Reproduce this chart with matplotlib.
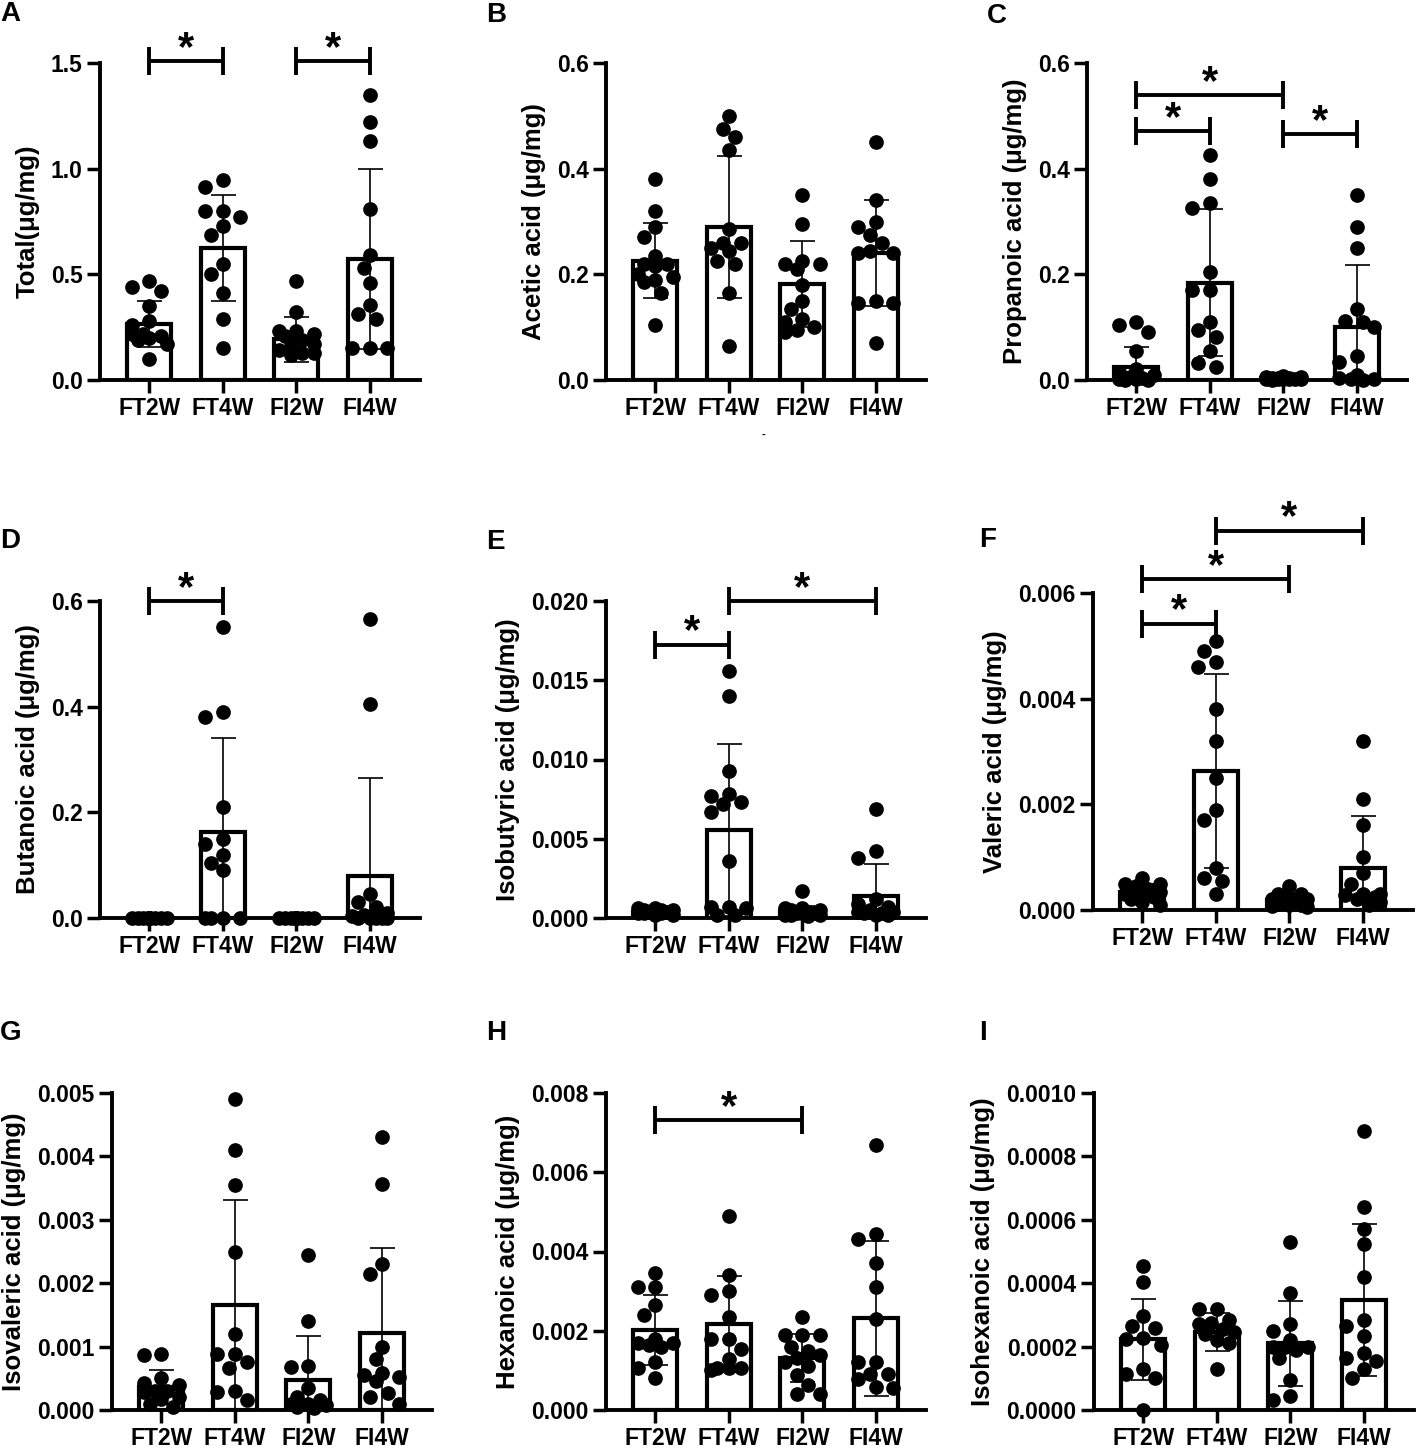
import matplotlib
matplotlib.use("Agg")
import matplotlib.pyplot as plt
import numpy as np

plt.rcParams['font.family'] = ['Liberation Sans', 'DejaVu Sans']
plt.rcParams['font.weight'] = 'bold'

groups = ["FT2W", "FT4W", "FI2W", "FI4W"]

# ---------------- data ----------------
total_pts = [
    [0.47, 0.44, 0.42, 0.35, 0.28, 0.26, 0.22, 0.21, 0.22, 0.20, 0.19, 0.17, 0.10],
    [0.945, 0.914, 0.80, 0.80, 0.77, 0.73, 0.685, 0.55, 0.50, 0.41, 0.29, 0.15],
    [0.47, 0.32, 0.23, 0.23, 0.22, 0.21, 0.19, 0.17, 0.16, 0.14, 0.13, 0.13, 0.12],
    [1.35, 1.22, 1.13, 0.81, 0.59, 0.53, 0.46, 0.355, 0.31, 0.29, 0.15, 0.15, 0.15],
]
total_mean = [0.265, 0.625, 0.192, 0.572]
total_sd = [0.108, 0.25, 0.108, 0.425]

acetic_pts = [
    [0.38, 0.32, 0.29, 0.27, 0.235, 0.22, 0.22, 0.215, 0.20, 0.195, 0.19, 0.185, 0.165, 0.105],
    [0.50, 0.475, 0.46, 0.435, 0.285, 0.26, 0.26, 0.25, 0.245, 0.225, 0.22, 0.165, 0.065],
    [0.35, 0.295, 0.225, 0.22, 0.22, 0.21, 0.18, 0.15, 0.135, 0.115, 0.11, 0.10, 0.095, 0.09],
    [0.45, 0.34, 0.30, 0.29, 0.275, 0.26, 0.245, 0.24, 0.24, 0.15, 0.145, 0.145, 0.07],
]
acetic_mean = [0.226, 0.29, 0.182, 0.24]
acetic_sd = [0.071, 0.134, 0.081, 0.10]

propanoic_pts = [
    [0.11, 0.105, 0.09, 0.055, 0.02, 0.015, 0.01, 0.005, 0.003, 0.002, 0.001, 0.0, 0.0],
    [0.425, 0.38, 0.335, 0.325, 0.205, 0.17, 0.17, 0.11, 0.095, 0.082, 0.054, 0.032, 0.025],
    [0.008, 0.006, 0.005, 0.004, 0.003, 0.003, 0.002, 0.002, 0.002, 0.001, 0.001, 0.001, 0.0],
    [0.35, 0.29, 0.25, 0.135, 0.112, 0.11, 0.10, 0.045, 0.035, 0.01, 0.003, 0.002, 0.001, 0.0],
]
propanoic_mean = [0.025, 0.184, 0.003, 0.10]
propanoic_sd = [0.038, 0.139, 0.003, 0.117]

butanoic_pts = [
    [0.0] * 13,
    [0.55, 0.39, 0.38, 0.21, 0.15, 0.14, 0.12, 0.105, 0.09, 0.0, 0.0, 0.0, 0.0],
    [0.0] * 13,
    [0.565, 0.405, 0.045, 0.03, 0.02, 0.01, 0.005, 0.003, 0.0, 0.0, 0.0, 0.0, 0.0],
]
butanoic_mean = [0.0, 0.162, 0.0, 0.08]
butanoic_sd = [0.0, 0.178, 0.0, 0.185]

isobutyric_pts = [
    [0.0006, 0.0006, 0.0005, 0.0005, 0.0005, 0.0004, 0.0004, 0.0004, 0.0003, 0.0003, 0.0003, 0.0002, 0.0002],
    [0.0156, 0.0140, 0.0093, 0.0078, 0.0077, 0.0073, 0.0072, 0.0067, 0.0036, 0.0007, 0.0007, 0.0006, 0.0002, 0.0002],
    [0.0017, 0.0006, 0.0006, 0.0005, 0.0005, 0.0004, 0.0003, 0.0003, 0.0003, 0.0002, 0.0002, 0.0002, 0.0001],
    [0.0069, 0.0042, 0.0038, 0.0012, 0.0009, 0.0007, 0.0005, 0.0004, 0.0004, 0.0003, 0.0003, 0.0002, 0.0002],
]
isobutyric_mean = [0.0004, 0.00556, 0.00045, 0.0014]
isobutyric_sd = [0.00012, 0.00544, 0.00033, 0.0020]

valeric_pts = [
    [0.0006, 0.0005, 0.0005, 0.00045, 0.0004, 0.0004, 0.00035, 0.0003, 0.0003, 0.00025, 0.0002, 0.00015, 0.0001],
    [0.0051, 0.0049, 0.0047, 0.0046, 0.0038, 0.0032, 0.0025, 0.0019, 0.0017, 0.0008, 0.0006, 0.00055, 0.0003],
    [0.00045, 0.0003, 0.0003, 0.00025, 0.0002, 0.0002, 0.00018, 0.00015, 0.00012, 0.0001, 0.0001, 0.00008, 0.00005],
    [0.0032, 0.0021, 0.0016, 0.001, 0.0007, 0.0005, 0.0003, 0.0003, 0.00028, 0.00025, 0.0002, 0.00015, 0.0001],
]
valeric_mean = [0.00035, 0.00263, 0.00018, 0.0008]
valeric_sd = [0.00014, 0.00183, 0.0001, 0.00097]

isovaleric_pts = [
    [0.00088, 0.00087, 0.00051, 0.00042, 0.0004, 0.0003, 0.0003, 0.00028, 0.0002, 0.00018, 0.0001, 0.00005],
    [0.0049, 0.0041, 0.00355, 0.0025, 0.0012, 0.00088, 0.00088, 0.00075, 0.00067, 0.0003, 0.00029, 0.00015],
    [0.00245, 0.0014, 0.0007, 0.00068, 0.00034, 0.0002, 0.00015, 0.0001, 0.0001, 0.00008, 0.00005, 0.00003],
    [0.0043, 0.00356, 0.0023, 0.00215, 0.001, 0.0008, 0.00058, 0.00055, 0.00052, 0.00045, 0.00027, 0.0002, 0.0001],
]
isovaleric_mean = [0.00036, 0.00166, 0.00048, 0.00121]
isovaleric_sd = [0.00027, 0.00166, 0.00069, 0.00135]

hexanoic_pts = [
    [0.00345, 0.0031, 0.0031, 0.00265, 0.0024, 0.0018, 0.0017, 0.0017, 0.00165, 0.0016, 0.0012, 0.00105, 0.0008],
    [0.0049, 0.0034, 0.0030, 0.0029, 0.00235, 0.0018, 0.0018, 0.00155, 0.00128, 0.00105, 0.00105, 0.00105, 0.0010],
    [0.00235, 0.0019, 0.0019, 0.0019, 0.0016, 0.0015, 0.0014, 0.0013, 0.0012, 0.0011, 0.00088, 0.00063, 0.0004, 0.0004],
    [0.0067, 0.00445, 0.00432, 0.0037, 0.0031, 0.0023, 0.0012, 0.0012, 0.0009, 0.0009, 0.00078, 0.00058, 0.00056],
]
hexanoic_mean = [0.00202, 0.00216, 0.00132, 0.00231]
hexanoic_sd = [0.00088, 0.00121, 0.00061, 0.00196]

isohexanoic_pts = [
    [0.000455, 0.000405, 0.000295, 0.000265, 0.00026, 0.000228, 0.000225, 0.000205, 0.00013, 0.000115, 0.0001, 0.0],
    [0.00032, 0.00032, 0.000285, 0.000275, 0.00027, 0.000255, 0.000245, 0.00024, 0.00022, 0.00021, 0.00013],
    [0.00053, 0.00037, 0.00027, 0.00025, 0.00022, 0.0002, 0.0002, 0.0002, 0.00019, 0.000165, 0.000095, 0.000045, 0.00003],
    [0.00088, 0.00064, 0.00057, 0.000525, 0.00042, 0.000285, 0.000265, 0.000235, 0.00018, 0.000165, 0.000155, 0.00013, 0.0001],
]
isohexanoic_mean = [0.000223, 0.000247, 0.00021, 0.000347]
isohexanoic_sd = [0.000127, 0.00006, 0.000133, 0.00024]

# significance brackets: (group i, group j, height)
total_sig = [(0, 1, 1.51), (2, 3, 1.51)]
propanoic_sig = [(0, 2, 0.539), (0, 1, 0.471), (2, 3, 0.465)]
butanoic_sig = [(0, 1, 0.60)]
isobutyric_sig = [(0, 1, 0.01725), (1, 3, 0.020)]
valeric_sig = [(0, 1, 0.00542), (0, 2, 0.00627), (1, 3, 0.00718)]
hexanoic_sig = [(0, 2, 0.00731)]

# y axes
total_ticks = [0.0, 0.5, 1.0, 1.5]
acid_ticks = [0.0, 0.2, 0.4, 0.6]
isobutyric_ticks = [0.000, 0.005, 0.010, 0.015, 0.020]
valeric_ticks = [0.000, 0.002, 0.004, 0.006]
isovaleric_ticks = [0.000, 0.001, 0.002, 0.003, 0.004, 0.005]
hexanoic_ticks = [0.000, 0.002, 0.004, 0.006, 0.008]
isohexanoic_ticks = [0.0000, 0.0002, 0.0004, 0.0006, 0.0008, 0.0010]

# ---------------- layout ----------------
W, H = 1417, 1451
AX_W, AX_H = 320, 317
XLIM = (-0.67, 3.68)
PX_PER_CAT = AX_W / (XLIM[1] - XLIM[0])

panels = [
    dict(letter="A", label="Total(μg/mg)", pts=total_pts, mean=total_mean, sd=total_sd,
         ticks=total_ticks, fmt="{:.1f}", sig=total_sig, left=100, bottom=380, lx=0, ly=14),
    dict(letter="B", label="Acetic acid (μg/mg)", pts=acetic_pts, mean=acetic_mean, sd=acetic_sd,
         ticks=acid_ticks, fmt="{:.1f}", sig=[], left=606, bottom=380, lx=486, ly=15),
    dict(letter="C", label="Propanoic acid (μg/mg)", pts=propanoic_pts, mean=propanoic_mean, sd=propanoic_sd,
         ticks=acid_ticks, fmt="{:.1f}", sig=propanoic_sig, left=1087, bottom=380, lx=987, ly=16),
    dict(letter="D", label="Butanoic acid (μg/mg)", pts=butanoic_pts, mean=butanoic_mean, sd=butanoic_sd,
         ticks=acid_ticks, fmt="{:.1f}", sig=butanoic_sig, left=100, bottom=918, lx=0, ly=541),
    dict(letter="E", label="Isobutyric acid (μg/mg)", pts=isobutyric_pts, mean=isobutyric_mean, sd=isobutyric_sd,
         ticks=isobutyric_ticks, fmt="{:.3f}", sig=isobutyric_sig, left=606, bottom=918, lx=486, ly=542),
    dict(letter="F", label="Valeric acid (μg/mg)", pts=valeric_pts, mean=valeric_mean, sd=valeric_sd,
         ticks=valeric_ticks, fmt="{:.3f}", sig=valeric_sig, left=1093, bottom=910, lx=979, ly=540),
    dict(letter="G", label="Isovaleric acid (μg/mg)", pts=isovaleric_pts, mean=isovaleric_mean, sd=isovaleric_sd,
         ticks=isovaleric_ticks, fmt="{:.3f}", sig=[], left=112, bottom=1410, lx=0, ly=1033),
    dict(letter="H", label="Hexanoic acid (μg/mg)", pts=hexanoic_pts, mean=hexanoic_mean, sd=hexanoic_sd,
         ticks=hexanoic_ticks, fmt="{:.3f}", sig=hexanoic_sig, left=606, bottom=1410, lx=486, ly=1033),
    dict(letter="I", label="Isohexanoic acid (μg/mg)", pts=isohexanoic_pts, mean=isohexanoic_mean, sd=isohexanoic_sd,
         ticks=isohexanoic_ticks, fmt="{:.4f}", sig=[], left=1094, bottom=1410, lx=979, ly=1033),
]

DOT_D = 14.5       # dot diameter in px
MAX_SPREAD = 17.5  # px


def swarm_offsets(vals, px_per_val):
    """Simple beeswarm layout in pixel space; returns offsets in category units."""
    cands = [0.0]
    step = MAX_SPREAD / 3.0
    for k in range(1, 4):
        cands += [-k * step, k * step]
    placed = []
    out = []
    for v in vals:
        y = v * px_per_val
        best, best_d = None, -1
        for c in cands:
            if placed:
                d = min(np.hypot(c - px, y - py) for px, py in placed)
            else:
                d = 1e9
            if d >= 0.95 * DOT_D:
                best = c
                break
            if d > best_d:
                best_d, best = d, c
        placed.append((best, y))
        out.append(best / PX_PER_CAT)
    return out


fig = plt.figure(figsize=(W / 100, H / 100), dpi=100)

for p in panels:
    ymax = p["ticks"][-1]
    ax = fig.add_axes([p["left"] / W, 1 - p["bottom"] / H, AX_W / W, AX_H / H])
    ax.set_xlim(*XLIM)
    ax.set_ylim(0, ymax)
    x = np.arange(len(groups))

    ax.bar(x, p["mean"], width=0.6, color="white", edgecolor="black", linewidth=3.0, zorder=2)
    ax.errorbar(x, p["mean"], yerr=p["sd"], fmt="none", ecolor="black", elinewidth=1.2,
                capsize=9, capthick=1.2, zorder=3)

    px_per_val = AX_H / ymax
    for i, vals in enumerate(p["pts"]):
        offs = swarm_offsets(vals, px_per_val)
        ax.scatter(np.full(len(vals), i) + np.array(offs), vals, s=112, color="black",
                   zorder=4, clip_on=False, linewidths=0)

    # significance brackets
    hh = 14 / AX_H * ymax
    for (i, j, yb) in p["sig"]:
        ax.plot([i, j], [yb, yb], color="black", lw=2.8, clip_on=False, zorder=5,
                solid_capstyle="butt")
        for e in (i, j):
            ax.plot([e, e], [yb - hh, yb + hh], color="black", lw=2.8, clip_on=False,
                    zorder=5, solid_capstyle="butt")
        ax.annotate("*", xy=((i + j) / 2, yb), xytext=(0, 0.8), textcoords="offset points",
                    ha="center", va="baseline", fontsize=30, fontweight="bold",
                    annotation_clip=False)

    for s in ("top", "right"):
        ax.spines[s].set_visible(False)
    for s in ("left", "bottom"):
        ax.spines[s].set_linewidth(2.8)
    ax.set_xticks(x)
    ax.set_xticklabels(groups, fontsize=16.5, fontweight="bold")
    ax.set_yticks(p["ticks"])
    ax.set_yticklabels([p["fmt"].format(t) for t in p["ticks"]], fontsize=16.5, fontweight="bold")
    ax.tick_params(axis="both", length=9.5, width=2.5, color="black")
    ax.tick_params(axis="y", pad=3)
    ax.tick_params(axis="x", pad=3)
    ax.set_ylabel(p["label"], fontsize=18.5, fontweight="bold", labelpad=8)

    fig.text(p["lx"] / W, 1 - p["ly"] / H, p["letter"], fontsize=20, fontweight="bold",
             ha="left", va="center")

# small stray dash under panel B
fig.text(763 / W, 1 - 435 / H, "-", fontsize=8, ha="center", va="center")

fig.savefig("out.png", dpi=100)
